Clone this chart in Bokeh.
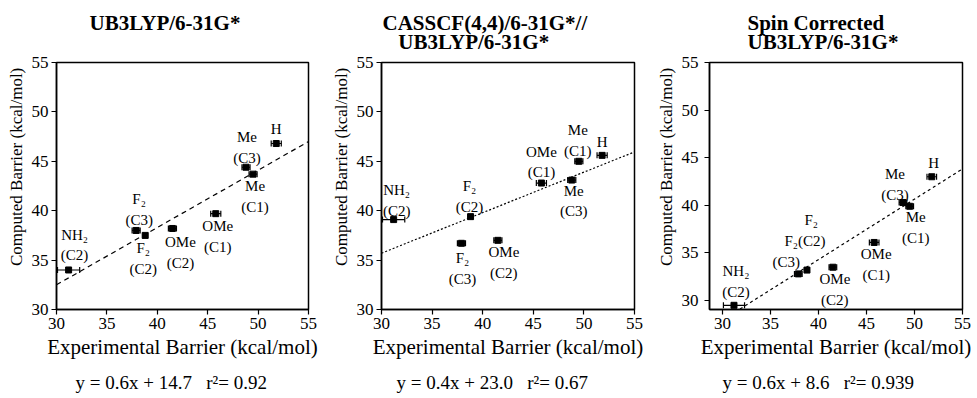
from bokeh.plotting import figure
from bokeh.layouts import row
from bokeh.models import ColumnDataSource, Whisker, TeeHead, Title, Range1d
from bokeh.embed import file_html
from bokeh.resources import INLINE
from bokeh.core.properties import value

# ---------------- data ----------------
substituents = ["NH2 (C2)", "F2 (C3)", "F2 (C2)", "OMe (C2)", "OMe (C1)", "Me (C3)", "Me (C1)", "H"]
experimental = [31.2, 37.9, 38.8, 41.5, 45.8, 48.8, 49.5, 51.8]
exp_error = [1.1, 0.4, 0.2, 0.4, 0.5, 0.4, 0.4, 0.5]
computed_ub3lyp = [34.0, 38.0, 37.5, 38.2, 39.7, 44.4, 43.7, 46.8]
computed_casscf = [39.1, 36.7, 39.4, 37.0, 42.8, 43.1, 45.0, 45.6]
computed_spin = [29.5, 32.8, 33.2, 33.5, 36.1, 40.3, 39.9, 43.0]

fit_slope = [0.58, 0.41, 0.635]
fit_intercept = [15.1, 23.4, 8.9]

NB = "\u00a0"
title_lines = [["UB3LYP/6-31G*", NB],
               ["CASSCF(4,4)/6-31G*//", NB * 3 + "UB3LYP/6-31G*"],
               ["Spin Corrected", "UB3LYP/6-31G*"]]
equations = ["y = 0.6x + 14.7" + NB * 3 + "r\u00b2= 0.92",
             "y = 0.4x + 23.0" + NB * 3 + "r\u00b2= 0.67",
             "y = 0.6x + 8.6" + NB * 3 + "r\u00b2= 0.939"]

ticks = [30, 35, 40, 45, 50, 55]
x_label = "Experimental Barrier (kcal/mol)"
y_label = "Computed Barrier (kcal/mol)"

labels_std = ["NH\u2082\n(C2)", "F\u2082\n(C3)", "F\u2082\n(C2)", "OMe\n(C2)", "OMe\n(C1)",
              "Me\n(C3)", "Me\n(C1)", "H"]
labels_spin = ["NH\u2082\n(C2)", "F\u2082", "(C3)", "F\u2082(C2)", "OMe\n(C2)", "OMe\n(C1)",
               "Me\n(C3)", "Me\n(C1)", "H"]
labels_spin_point = [0, 1, 1, 2, 3, 4, 5, 6, 7]

FONT = "Liberation Serif"
HAS_LH = "text_line_height" in Title.properties()

# ---------------- layout (pixel offsets of labels etc.) ----------------
off1 = [(6, -25), (3, -21), (-2, 23), (8, 24), (2, 23), (1, -20), (2, 22), (0, -15)]
off2 = [(3, -19), (1, 25), (-1, -20), (6, 22), (0, -21), (2, 21), (-1, -21), (0, -13)]
off3 = [(2, -24), (13, -54), (-12, -12), (-2, -29), (2, 22), (2, 22), (-8, -18), (6, 21), (2, -14)]

H = 396
panels = [
    dict(comp=computed_ub3lyp, labels=labels_std, lp=list(range(8)), off=off1,
         xr=(30, 55), yr=(30, 55), width=328, left=56, right=20, top=61, bottom=H - 61 - 248,
         dash="5 4", title_off=33, eq_off=19, standoff=3),
    dict(comp=computed_casscf, labels=labels_std, lp=list(range(8)), off=off2,
         xr=(30, 55), yr=(30, 55), width=322, left=52, right=16, top=61, bottom=H - 61 - 250,
         dash="2 2", title_off=1, eq_off=15, standoff=3),
    dict(comp=computed_spin, labels=labels_spin, lp=labels_spin_point, off=off3,
         xr=(28.65, 55), yr=(29.06, 55), width=324, left=59, right=12, top=61, bottom=H - 61 - 249,
         dash="3 3", title_off=38, eq_off=13, standoff=6),
]

figs = []
for i, cfg in enumerate(panels):
    p = figure(width=cfg["width"], height=H, output_backend="svg", toolbar_location=None,
               x_range=Range1d(*cfg["xr"]), y_range=Range1d(*cfg["yr"]),
               min_border_left=cfg["left"], min_border_right=cfg["right"],
               min_border_top=cfg["top"], min_border_bottom=cfg["bottom"])
    p.background_fill_color = "white"
    p.border_fill_color = "white"
    p.outline_line_color = "black"
    p.outline_line_width = 1.5
    p.grid.visible = False

    for ax in (p.xaxis[0], p.yaxis[0]):
        ax.ticker = ticks
        ax.minor_tick_line_color = None
        ax.major_tick_in = 0
        ax.major_tick_out = 5
        ax.axis_line_width = 1.5
        ax.axis_line_color = "black"
        ax.major_tick_line_color = "black"
        ax.major_tick_line_width = 1.2
        ax.major_label_text_font = FONT
        ax.major_label_text_font_size = "17px"
        ax.major_label_text_color = "black"
        ax.axis_label_text_font = FONT
        ax.axis_label_text_font_style = "normal"
        ax.axis_label_text_color = "black"
    p.xaxis.axis_label = x_label
    # leading padding lifts the rotated label to where the original sits
    p.yaxis.axis_label = NB * 9 + y_label
    p.xaxis.axis_label_text_font_size = "21px"
    p.yaxis.axis_label_text_font_size = "17px"
    p.xaxis.major_label_standoff = 3
    p.xaxis.axis_label_standoff = 3
    p.yaxis.major_label_standoff = cfg["standoff"]
    p.yaxis.axis_label_standoff = 3

    comp = cfg["comp"]
    src = ColumnDataSource(dict(
        x=experimental, y=comp,
        lo=[e - d for e, d in zip(experimental, exp_error)],
        hi=[e + d for e, d in zip(experimental, exp_error)],
    ))

    # fit line
    x0, x1 = cfg["xr"]
    fx = [x0, x1]
    fy = [fit_slope[i] * v + fit_intercept[i] for v in fx]
    p.line(fx, fy, line_color="black", line_width=1.2, line_dash=cfg["dash"])

    # error bars
    w = Whisker(source=src, base="y", lower="lo", upper="hi", dimension="width",
                line_color="black", line_width=1.2,
                upper_head=TeeHead(size=6, line_color="black", line_width=1.2),
                lower_head=TeeHead(size=6, line_color="black", line_width=1.2))
    p.add_layout(w)
    p.scatter("x", "y", source=src, marker="square", size=6, color="black")

    # point labels
    lsrc = ColumnDataSource(dict(
        x=[experimental[k] for k in cfg["lp"]],
        y=[comp[k] for k in cfg["lp"]],
        text=cfg["labels"],
        dx=[o[0] for o in cfg["off"]],
        dy=[o[1] for o in cfg["off"]],
    ))
    p.text("x", "y", text="text", source=lsrc, x_offset="dx", y_offset="dy",
           text_font=value(FONT), text_font_size="15px", text_align="center",
           text_baseline="middle", text_line_height=1.3, text_color="black")

    # title (two lines, tight line spacing)
    t_kw = dict(text="\n".join(title_lines[i]), align="left", offset=cfg["title_off"],
                standoff=17, text_font=FONT, text_font_size="21px", text_font_style="bold",
                text_color="black")
    if HAS_LH:
        t_kw["text_line_height"] = 0.8
    p.add_layout(Title(**t_kw), "above")

    # equation below the x axis
    if HAS_LH:
        e_kw = dict(text=NB + "\n" + equations[i], text_line_height=0.45, standoff=0)
    else:
        e_kw = dict(text=equations[i], standoff=11)
    p.add_layout(Title(align="left", offset=cfg["eq_off"], text_font=FONT,
                       text_font_size="19px", text_font_style="normal",
                       text_color="black", **e_kw), "below")
    figs.append(p)

layout = row(*figs, spacing=0)
open("out.html", "w").write(file_html(layout, INLINE))
